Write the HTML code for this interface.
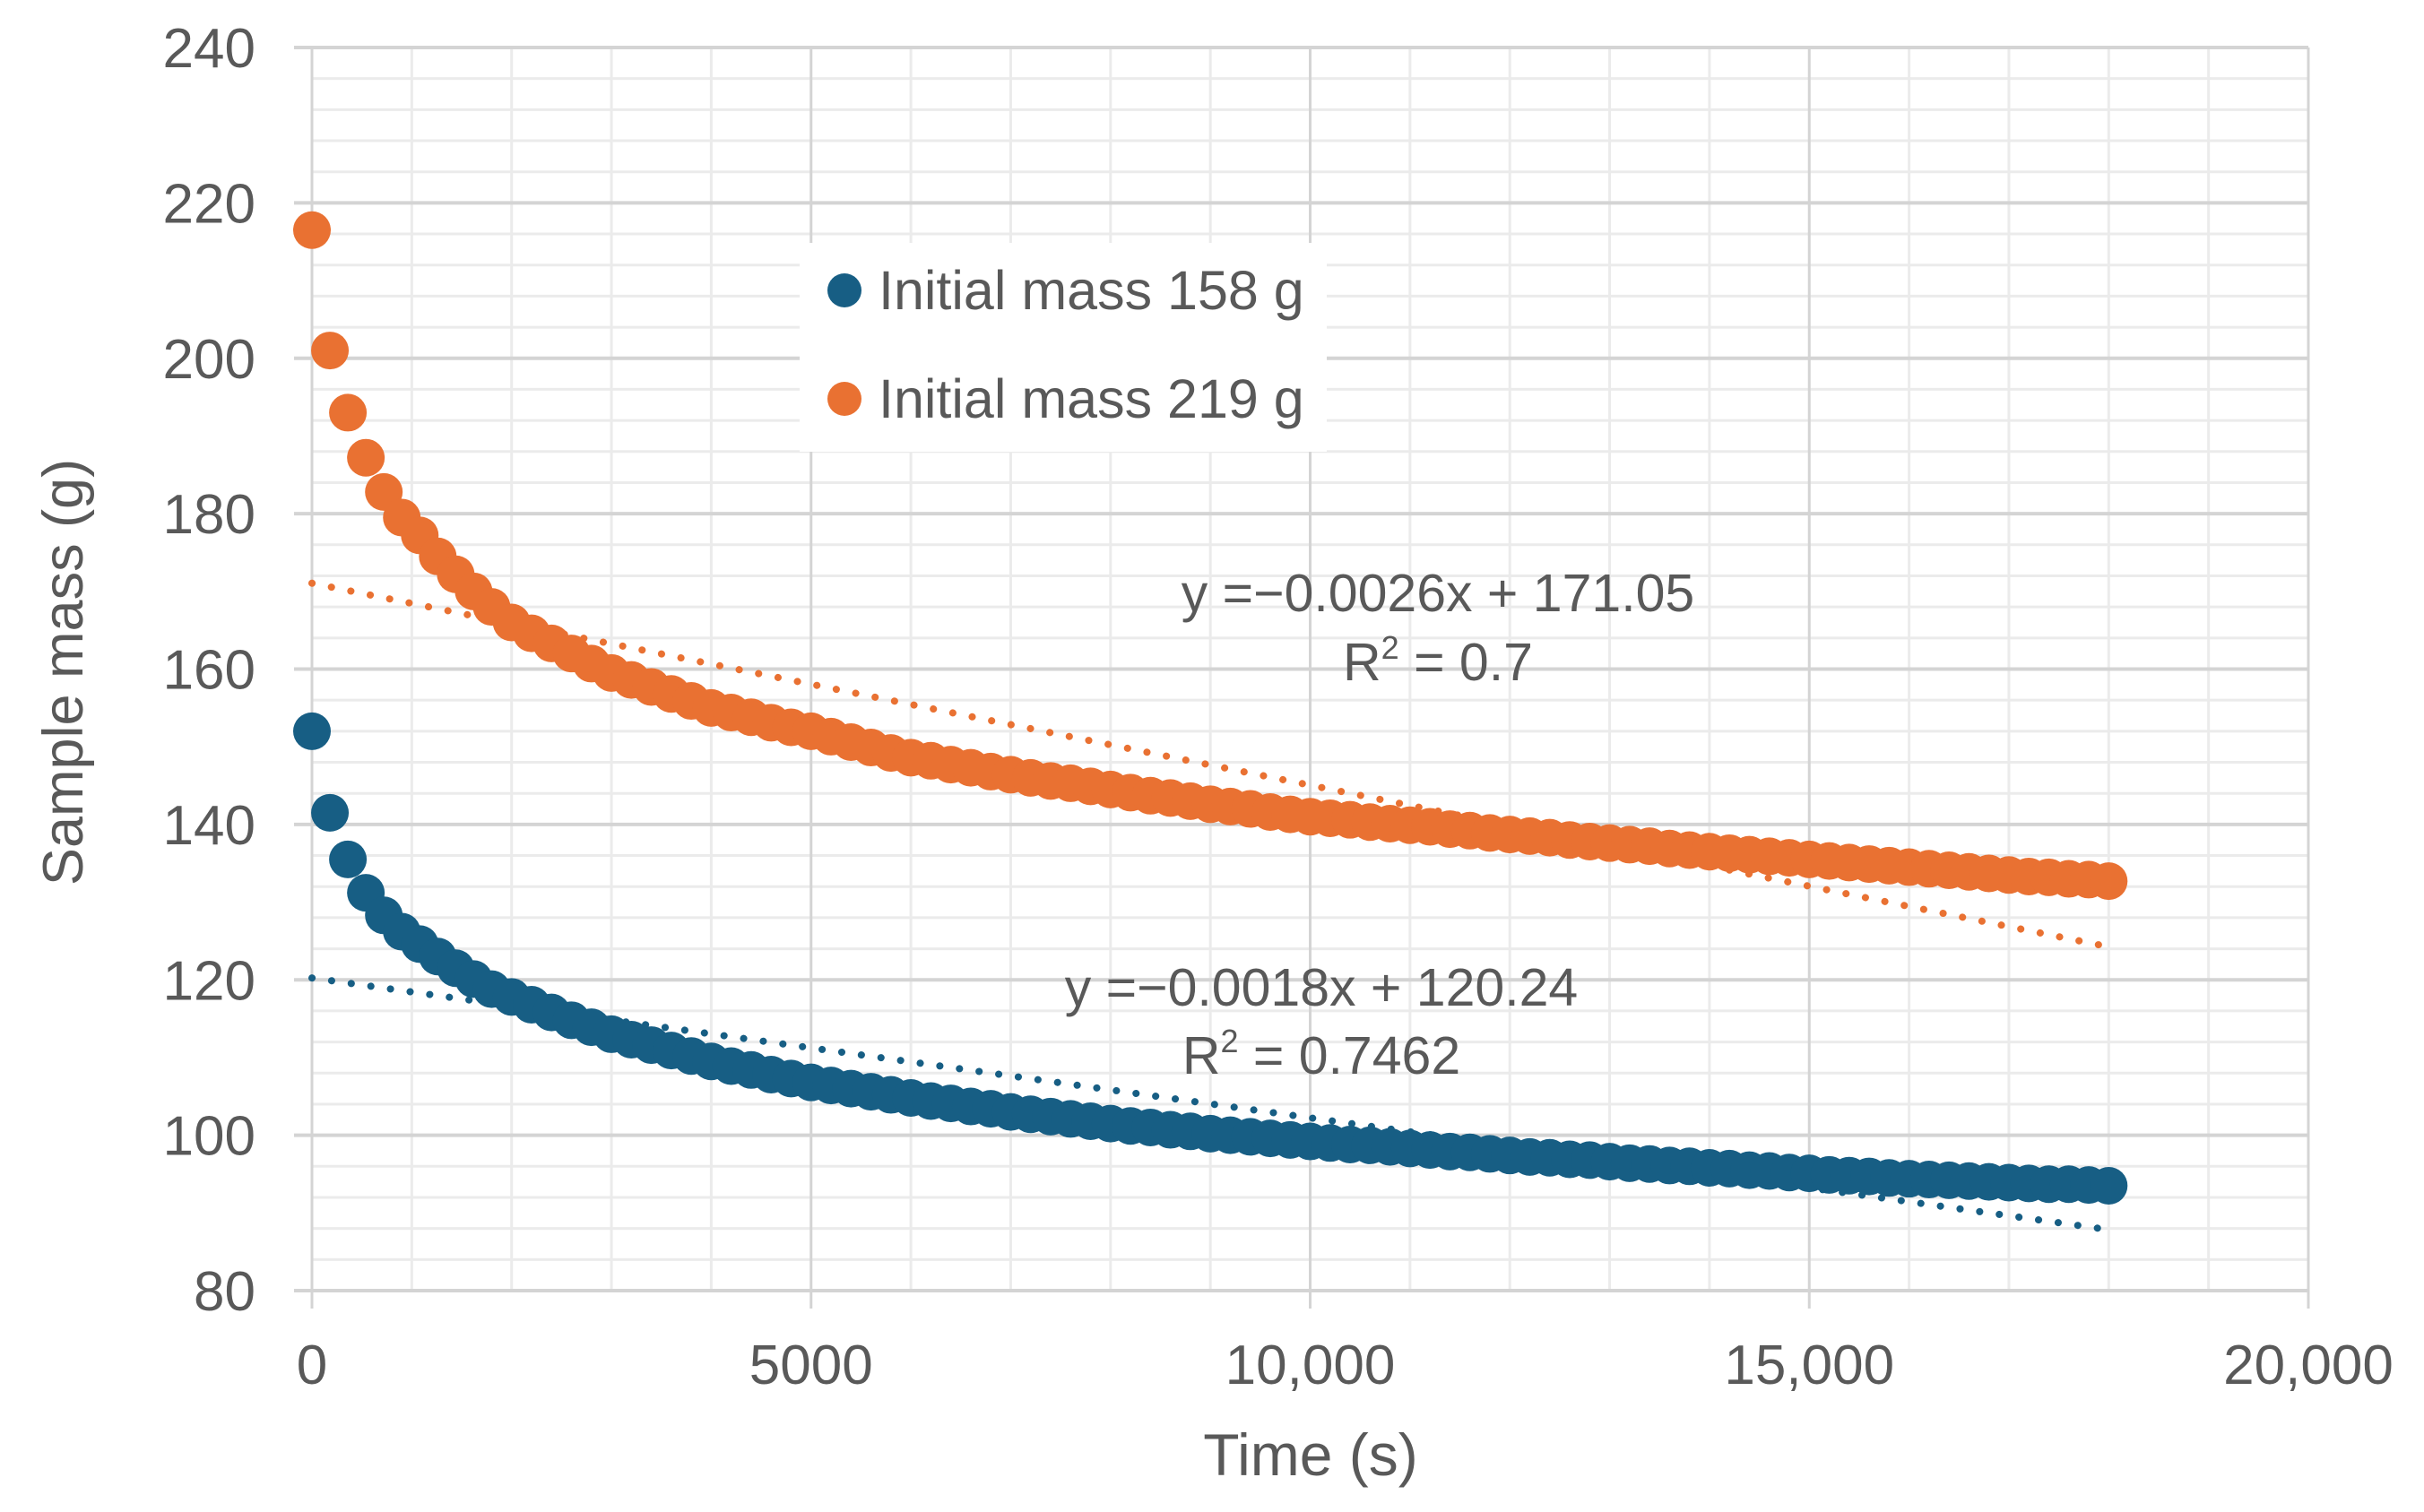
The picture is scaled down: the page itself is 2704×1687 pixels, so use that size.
<!DOCTYPE html>
<html><head><meta charset="utf-8"><style>
html,body{margin:0;padding:0;background:#fff;}
svg{display:block;font-family:"Liberation Sans",sans-serif;}
</style></head><body>
<svg id="chart" width="2704" height="1687" viewBox="0 0 2704 1687">
<g id="grid"></g>
<g id="axes"></g>
<g id="trends"></g>
<g id="series"></g>
<g>
<rect x="892" y="271" width="588" height="233" fill="#fff"/>
<g>
<circle cx="942" cy="324" r="19" fill="#175e84"/>
<text x="980" y="345" font-size="61" fill="#595959">Initial mass 158 g</text></g>
<g>
<circle cx="942" cy="445" r="19" fill="#e97132"/>
<text x="980" y="466" font-size="61" fill="#595959">Initial mass 219 g</text></g>
</g>
<text x="1604" y="682" font-size="59" fill="#595959" text-anchor="middle">y =−0.0026x + 171.05</text>
<text x="1604" y="759" font-size="59" fill="#595959" text-anchor="middle">R<tspan font-size="36" dy="-24">2</tspan><tspan dy="24"> = 0.7</tspan></text>
<text x="1474" y="1122" font-size="59" fill="#595959" text-anchor="middle">y =−0.0018x + 120.24</text>
<text x="1474" y="1198" font-size="59" fill="#595959" text-anchor="middle">R<tspan font-size="36" dy="-24">2</tspan><tspan dy="24"> = 0.7462</tspan></text>
<text x="1462" y="1646" font-size="66" fill="#595959" text-anchor="middle">Time (s)</text>
<text transform="translate(92,750) rotate(-90)" font-size="63" fill="#595959" text-anchor="middle">Sample mass (g)</text>
</svg>
<script>
const xTicks=[0,5000,10000,15000,20000];
const xTickLabels=["0","5000","10,000","15,000","20,000"];
const yTicks=[80,100,120,140,160,180,200,220,240];
const earlyTimes=[0,180,360,540,720,900,1080,1260,1440,1620,1800];
const blueEarly=[152,141.5,135.5,131.2,128.3,126.2,124.6,123.0,121.5,120.1,118.8];
const blueLate=[117.8,116.8,115.8,114.8,113.9,113.0,112.3,111.6,110.9,110.2,109.5,108.9,108.4,107.8,107.3,106.8,106.4,106.0,105.6,105.2,104.8,104.4,104.1,103.7,103.4,103.0,102.7,102.4,102.1,101.8,101.5,101.2,101.0,100.7,100.5,100.2,100.0,99.8,99.6,99.4,99.2,99.0,98.8,98.7,98.5,98.3,98.1,97.9,97.8,97.6,97.4,97.2,97.1,96.9,96.8,96.6,96.4,96.3,96.1,96.0,95.8,95.7,95.5,95.4,95.2,95.1,94.9,94.8,94.7,94.5,94.4,94.3,94.2,94.1,94.0,93.9,93.8,93.7,93.7,93.6,93.5];
const orangeEarly=[216.5,201,193,187.2,182.8,179.5,177.2,174.5,172.2,170,168];
const orangeLate=[166.0,164.6,163.3,162.0,160.7,159.5,158.6,157.7,156.8,155.9,155.0,154.4,153.8,153.1,152.5,152.0,151.3,150.6,149.9,149.2,148.6,148.2,147.7,147.3,146.8,146.4,146.0,145.6,145.3,144.9,144.5,144.1,143.7,143.4,143.0,142.6,142.3,142.0,141.6,141.3,141.0,140.8,140.6,140.3,140.1,139.9,139.7,139.4,139.2,138.9,138.7,138.5,138.3,138.0,137.8,137.6,137.4,137.2,136.9,136.7,136.5,136.3,136.1,135.9,135.7,135.5,135.3,135.1,134.9,134.7,134.5,134.3,134.1,133.9,133.7,133.5,133.3,133.2,133.0,132.9,132.7];
const lateStart=2000, lateStep=200;
const trendBlue=[-0.0018,120.24];
const trendOrange=[-0.0026,171.05];
const trendRange=[0,18000];

const NS="http://www.w3.org/2000/svg";
const L=348,R=2575,T=53,B=1440;
const X=v=>L+(v-0)/(20000-0)*(R-L);
const Y=v=>B-(v-80)/(240-80)*(B-T);
function mk(tag,attrs,parent){const e=document.createElementNS(NS,tag);for(const k in attrs)e.setAttribute(k,attrs[k]);parent.appendChild(e);return e;}
const grid=document.getElementById('grid'),axes=document.getElementById('axes');
for(let t=1000;t<=20000;t+=1000){if(t%5000===0)continue;const l=mk('line',{x1:X(t),x2:X(t),y1:T,y2:B,stroke:'#ebebeb','stroke-width':3},grid);

}
for(let v=84;v<240;v+=4){if(v%20===0)continue;const l=mk('line',{x1:L,x2:R,y1:Y(v),y2:Y(v),stroke:'#ebebeb','stroke-width':3},grid);

}
xTicks.forEach((t,i)=>{const l=mk('line',{x1:X(t),x2:X(t),y1:T,y2:B+20,stroke:'#d4d4d4','stroke-width':3},grid);


const tx=mk('text',{x:X(t),y:1544,'font-size':62,fill:'#595959','text-anchor':'middle'},axes);tx.textContent=xTickLabels[i];

});
yTicks.forEach(v=>{const l=mk('line',{x1:L-20,x2:R,y1:Y(v),y2:Y(v),stroke:'#d4d4d4','stroke-width':4},grid);


const tx=mk('text',{x:285,y:Y(v)+22,'font-size':62,fill:'#595959','text-anchor':'end'},axes);tx.textContent=v;

});
const tr=document.getElementById('trends'),se=document.getElementById('series');
function trend(c,col,name){const l=mk('line',{x1:X(trendRange[0]),y1:Y(c[0]*trendRange[0]+c[1]),x2:X(trendRange[1]),y2:Y(c[0]*trendRange[1]+c[1]),stroke:col,'stroke-width':8,'stroke-linecap':'round','stroke-dasharray':'0.1 22'},tr);

}
function series(early,late,col,name){const g=mk('g',{fill:col},se);


const pts=early.map((v,i)=>[earlyTimes[i],v]).concat(late.map((v,i)=>[lateStart+i*lateStep,v]));
pts.forEach(p=>{const c=mk('circle',{cx:X(p[0]),cy:Y(p[1]),r:21},g);

});}
series(orangeEarly,orangeLate,'#e97132','series-219g');
series(blueEarly,blueLate,'#175e84','series-158g');
trend(trendOrange,'#e97132','trendline-219g');
trend(trendBlue,'#175e84','trendline-158g');
</script>
</body></html>
